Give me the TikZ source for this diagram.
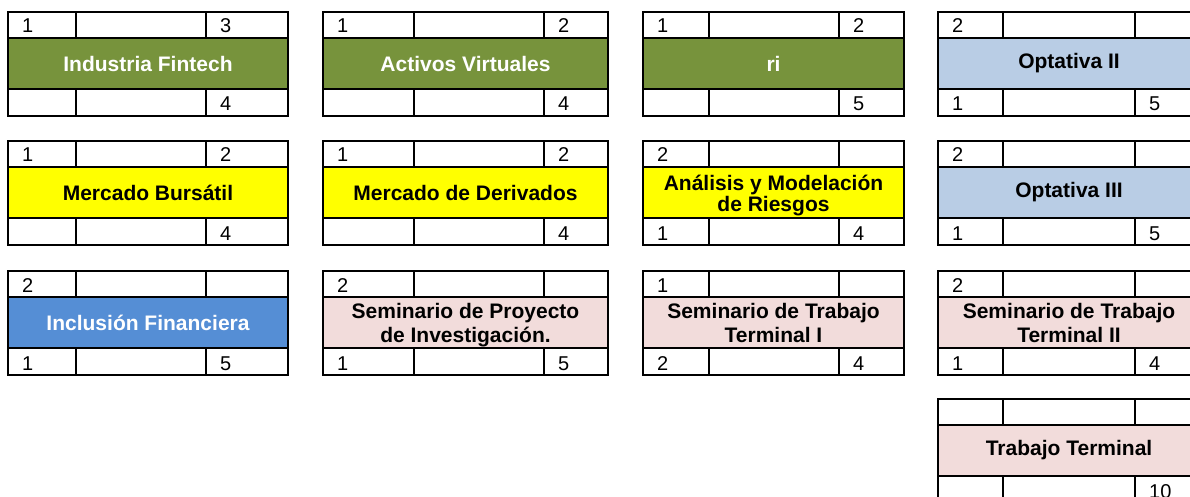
\documentclass[tikz,border=0pt]{standalone}
\usepackage{fontspec}
\setmainfont{Liberation Sans}
\usetikzlibrary{calc}
\definecolor{olivegreen}{HTML}{77933C}
\definecolor{lightblue}{HTML}{B9CDE5}
\definecolor{midblue}{HTML}{558ED5}
\definecolor{palepink}{HTML}{F2DCDB}
\definecolor{brightyellow}{HTML}{FFFF00}
\tikzset{
  cell/.style={draw=black, line width=1.8pt, fill=white, inner sep=0pt, outer sep=0pt, anchor=north west},
  bar/.style={draw=black, line width=1.8pt, inner sep=0pt, outer sep=0pt, anchor=north west, align=center,
    font=\fontsize{21}{24}\selectfont\bfseries},
  num/.style={inner sep=0pt, anchor=base west, font=\fontsize{20}{24}\selectfont},
  greenbar/.style={fill=olivegreen, text=white},
  yellowbar/.style={fill=brightyellow, text=black},
  lbluebar/.style={fill=lightblue, text=black},
  mbluebar/.style={fill=midblue, text=white},
  pinkbar/.style={fill=palepink, text=black},
  twoline/.style={text height=39.5pt, text depth=0pt},
  twotight/.style={font=\fontsize{21}{21}\selectfont\bfseries, text height=38.5pt, text depth=0pt},
}
% column geometry (left edge, two inner dividers, right edge)
\def\xAa{8}\def\xAb{76}\def\xAc{206}\def\xAd{288}
\def\xBa{323}\def\xBb{414}\def\xBc{544}\def\xBd{608}
\def\xCa{643}\def\xCb{709}\def\xCc{839}\def\xCd{904}
\def\xDa{938}\def\xDb{1003}\def\xDc{1135}\def\xDd{1200}
\newcommand\numat[3]{\if\relax\detokenize{#3}\relax\else
  \node[num] (#1) at ($(#2.south west)+(14,-5)$) {#3};\fi}
\newcommand\card[9]{%
  \edef\xa{\csname x#2a\endcsname}\edef\xb{\csname x#2b\endcsname}%
  \edef\xc{\csname x#2c\endcsname}\edef\xd{\csname x#2d\endcsname}%
  \pgfmathsetmacro\wa{\xb-\xa}\pgfmathsetmacro\wb{\xc-\xb}%
  \pgfmathsetmacro\wc{\xd-\xc}\pgfmathsetmacro\wt{\xd-\xa}%
  \pgfmathsetmacro\ym{#3+26}\pgfmathsetmacro\yb{#3+77}%
  \node[cell, minimum width=\wa pt, minimum height=26pt] (#1-tl) at (\xa,#3) {};
  \node[cell, minimum width=\wb pt, minimum height=26pt] (#1-tm) at (\xb,#3) {};
  \node[cell, minimum width=\wc pt, minimum height=26pt] (#1-tr) at (\xc,#3) {};
  \node[bar, #4, minimum width=\wt pt, minimum height=51pt] (#1) at (\xa,\ym) {#5};
  \node[cell, minimum width=\wa pt, minimum height=27pt] (#1-bl) at (\xa,\yb) {};
  \node[cell, minimum width=\wb pt, minimum height=27pt] (#1-bm) at (\xb,\yb) {};
  \node[cell, minimum width=\wc pt, minimum height=27pt] (#1-br) at (\xc,\yb) {};
  \numat{#1-ntl}{#1-tl}{#6}\numat{#1-ntr}{#1-tr}{#7}%
  \numat{#1-nbl}{#1-bl}{#8}\numat{#1-nbr}{#1-br}{#9}%
}
\begin{document}
\begin{tikzpicture}[x=1pt,y=-1pt]
\useasboundingbox (0,0) rectangle (1190,497);
\clip (0,0) rectangle (1190,497);
% row 1
\card{fintech}{A}{12}{greenbar}{Industria Fintech}{1}{3}{}{4}
\card{activos}{B}{12}{greenbar}{Activos Virtuales}{1}{2}{}{4}
\card{ri}{C}{12}{greenbar}{ri}{1}{2}{}{5}
\card{opt2}{D}{12}{lbluebar}{Optativa II}{2}{}{1}{5}
% row 2
\card{bursatil}{A}{141}{yellowbar}{Mercado Bursátil}{1}{2}{}{4}
\card{derivados}{B}{141}{yellowbar}{Mercado de Derivados}{1}{2}{}{4}
\card{riesgos}{C}{141}{yellowbar, twotight}{Análisis y Modelación\\de Riesgos}{2}{}{1}{4}
\card{opt3}{D}{141}{lbluebar}{Optativa III}{2}{}{1}{5}
% row 3
\card{inclusion}{A}{271}{mbluebar}{Inclusión Financiera}{2}{}{1}{5}
\card{semproy}{B}{271}{pinkbar, twoline}{Seminario de Proyecto\\de Investigación.}{2}{}{1}{5}
\card{semtt1}{C}{271}{pinkbar, twoline}{Seminario de Trabajo\\Terminal I}{1}{}{2}{4}
\card{semtt2}{D}{271}{pinkbar, twoline}{Seminario de Trabajo\\Terminal II}{2}{}{1}{4}
% row 4
\card{tt}{D}{399}{pinkbar}{Trabajo Terminal}{}{}{}{10}
\end{tikzpicture}
\end{document}
